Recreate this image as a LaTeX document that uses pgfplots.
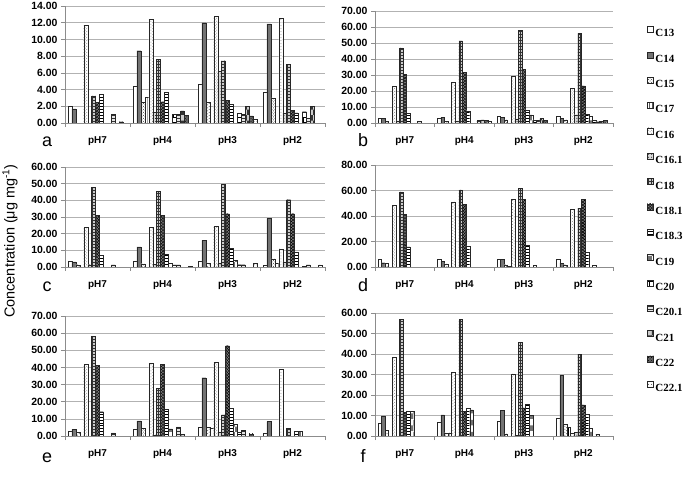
\documentclass[border=0pt]{standalone}
\usepackage{pgfplots}
\pgfplotsset{compat=1.18}
\usepackage{pgfplotstable}
\usetikzlibrary{patterns}
\usepackage{fontspec}
\setmainfont{Liberation Sans}
\newfontfamily\legfont{Liberation Serif}

% one table per panel: columns = fatty acids, rows = pH7, pH4, pH3, pH2
\pgfplotstableread{
g C13  C14   C15  C17  C16   C161 C18  C181 C183 C19 C20  C201 C21  C22  C221
0 2.05 1.70  0    0    11.65 0    3.25 2.50 3.45 0   0    1.00 0    0.15 0
1 4.40 8.65  2.50 3.05 12.40 1.30 7.60 2.55 3.75 0   1.00 1.00 1.45 0.95 0
2 4.70 12.00 2.50 0    12.75 6.20 7.45 2.70 2.20 0   1.20 1.00 2.00 0.85 0.45
3 3.75 11.85 3.00 0    12.50 1.20 7.00 1.50 1.20 0   1.35 0.60 2.00 0    0
}\tabA
\pgfplotstableread{
g C13 C14 C15 C17 C16  C161 C18  C181 C183 C19 C20 C201 C21 C22 C221
0 3.0 3.0 1.0 0   22.8 1.4  47.0 30.6 6.2  0   0   1.0  0   0   0
1 3.0 3.7 1.0 0   25.3 1.4  51.3 31.5 7.7  0   0   1.5  2.0 1.6 1.0
2 4.1 3.6 2.0 0   29.4 2.5  58.0 33.5 8.3  5.2 2.0 1.7  2.8 1.5 0
3 4.0 3.0 2.0 0   21.8 5.2  56.0 23.2 5.5  4.3 1.7 0.8  0.9 1.7 0
}\tabB
\pgfplotstableread{
g C13 C14  C15 C17 C16  C161 C18  C181 C183 C19 C20 C201 C21 C22 C221
0 3.4 3.0  1.4 0   23.8 1.4  47.8 31.0 7.0  0   0   1.3  0   0   0
1 3.4 12.0 2.0 0   23.8 1.5  45.5 31.0 7.5  2.2 1.3 1.3  0   0   0.4
2 3.8 16.0 2.4 0   24.4 2.4  49.6 32.0 11.2 4.0 1.4 1.4  0   0   2.4
3 1.2 29.2 4.8 2.2 11.0 3.0  40.4 32.0 9.0  0   0.4 1.3  0   0   1.3
}\tabC
\pgfplotstableread{
g C13 C14 C15 C17 C16  C161 C18  C181 C183 C19 C20 C201 C21 C22 C221
0 5.8 3.4 3.1 0   48.5 0    59.0 41.5 15.7 0   0   0    0   0   0
1 6.3 4.5 2.6 0   51.0 0    60.4 49.3 16.5 0   0   0    0   0   0
2 6.3 6.0 1.8 0.5 53.0 0    61.7 53.3 16.8 0   1.3 0    0   0   0
3 6.3 3.1 1.8 0   45.5 0    46.0 53.0 11.3 0   1.3 0    0   0   0
}\tabD
\pgfplotstableread{
g C13 C14  C15 C17 C16  C161 C18  C181 C183 C19 C20 C201 C21 C22 C221
0 3.1 3.9  2.3 0   42.0 0    58.3 41.4 14.2 0   0   1.9  0   0   0
1 3.9 8.8  4.5 0   42.4 0.6  28.0 41.8 15.6 4.1 0   5.4  1.0 0   0
2 5.4 34.0 4.9 4.5 43.0 2.3  12.3 52.7 16.0 7.0 2.0 3.5  0   1.2 0
3 1.5 8.4  0   0   39.2 0    4.5  0    3.0  2.7 0   0    0   0   0
}\tabE
\pgfplotstableread{
g C13 C14  C15 C17 C16  C161 C18  C181 C183 C19  C20 C201 C21 C22 C221
0 6.2 9.8  2.9 0   38.5 0    56.8 11.4 12.2 11.9 0   0    0   0   0
1 6.7 10.3 1.6 1.6 31.0 0    56.8 12.1 13.4 12.7 0   0    0   0   0
2 7.3 12.4 1.0 0   30.3 0.3  45.7 13.7 15.5 10.0 0   0    0   0   0
3 8.6 29.7 5.9 4.2 1.3  1.8  40.0 15.2 10.6 3.6  0   0.7  0   0   0
}\tabF

\pgfplotsset{
  bar/.style={draw=black!85, line width=0.3bp,
    legend image code/.code={\draw[##1, line width=0.3bp] (0bp,0.6bp) rectangle (6bp,6.6bp);}},
  % each series keeps its own slot inside a group (15 slots of 1/16.5)
  sC13/.style={bar shift=-0.42424, fill=white},
  sC14/.style={bar shift=-0.36364, fill=black!55},
  sC15/.style={bar shift=-0.30303, fill=white, postaction={pattern=crosshatch dots, pattern color=black!75}},
  sC17/.style={bar shift=-0.24242, fill=white, postaction={pattern=vertical lines, pattern color=black}},
  sC16/.style={bar shift=-0.18182, fill=white, postaction={pattern=crosshatch dots, pattern color=black!45}},
  sC161/.style={bar shift=-0.12121, fill=black!15, postaction={pattern=dots, pattern color=black}},
  sC18/.style={bar shift=-0.06061, fill=black!20, postaction={pattern=grid, pattern color=black!80}},
  sC181/.style={bar shift=0, fill=black!50, postaction={pattern=crosshatch, pattern color=black}},
  sC183/.style={bar shift=0.06061, fill=white, postaction={pattern=horizontal lines, pattern color=black}},
  sC19/.style={bar shift=0.12121, fill=white, postaction={pattern=checkerboard, pattern color=black!55}},
  sC20/.style={bar shift=0.18182, fill=white, postaction={pattern=bricks, pattern color=black}},
  sC201/.style={bar shift=0.24242, fill=black!10, postaction={pattern=horizontal lines, pattern color=black!80}},
  sC21/.style={bar shift=0.30303, fill=black!20, postaction={pattern=checkerboard, pattern color=black!80}},
  sC22/.style={bar shift=0.36364, fill=black!60, postaction={pattern=crosshatch dots, pattern color=black}},
  sC221/.style={bar shift=0.42424, fill=white, postaction={pattern=dots, pattern color=black!70}},
  panel/.style={
    scale only axis, anchor=south west,
    ybar=0pt, bar width=0.0606,
    xmin=-0.5, xmax=3.5, ymin=0,
    axis x line*=bottom, axis y line*=left,
    axis line style={draw=black!45, line width=0.6bp},
    xtick={0,1,2,3}, xticklabels={pH7,pH4,pH3,pH2},
    minor xtick={-0.5,0.5,1.5,2.5,3.5},
    tick align=outside,
    major x tick style={draw=none},
    minor x tick style={draw=black!45, line width=0.6bp},
    ytick style={draw=black!45, line width=0.6bp},
    major tick length=4bp, minor tick length=4bp,
    ymajorgrids, grid style={draw=black!30, line width=0.5bp},
    xticklabel style={font=\bfseries\fontsize{10}{10}\selectfont, yshift=-6bp},
    yticklabel style={font=\bfseries\fontsize{10.5}{10.5}\selectfont,
      /pgf/number format/.cd, fixed, fixed zerofill, precision=2, assume math mode=true},
    scaled y ticks=false,
    y filter/.expression={y==0 ? nan : y},
    unbounded coords=discard,
  },
}

\newcommand\bars[1]{%
  \pgfplotsinvokeforeach{C13,C14,C15,C17,C16,C161,C18,C181,C183,C19,C20,C201,C21,C22,C221}{%
    \addplot[bar, s##1] table[x=g, y=##1] {#1};}%
}

\begin{document}
\begin{tikzpicture}
\useasboundingbox (0,0) rectangle (685bp,477bp);

\begin{axis}[panel, at={(65bp,354bp)}, width=260bp, height=117bp, ymax=14, ytick distance=2]
\bars{\tabA}
\end{axis}

\begin{axis}[panel, at={(375bp,354bp)}, width=238bp, height=112bp, ymax=70, ytick distance=10]
\bars{\tabB}
\end{axis}

\begin{axis}[panel, at={(65bp,210bp)}, width=260bp, height=100bp, ymax=60, ytick distance=10]
\bars{\tabC}
\end{axis}

\begin{axis}[panel, at={(375bp,210bp)}, width=238bp, height=102bp, ymax=80, ytick distance=20]
\bars{\tabD}
\end{axis}

\begin{axis}[panel, at={(65bp,41bp)}, width=260bp, height=120bp, ymax=70, ytick distance=10]
\bars{\tabE}
\end{axis}

\begin{axis}[panel, at={(375bp,41bp)}, width=238bp, height=123bp, ymax=60, ytick distance=10]
\bars{\tabF}
\end{axis}

% legend column on the right
\begin{axis}[hide axis, scale only axis, anchor=south west, at={(640bp,20bp)},
  width=40bp, height=433bp, xmin=0, xmax=1, ymin=0, ymax=1,
  legend style={at={(0.1,1)}, anchor=north west, draw=none, fill=none,
    font=\legfont\bfseries\fontsize{11}{11}\selectfont, row sep=14.6bp, column sep=2bp,
    nodes={inner sep=0pt, text height=8bp, text depth=0bp}},
  legend cell align=left]
\pgfplotsinvokeforeach{C13,C14,C15,C17,C16,C161,C18,C181,C183,C19,C20,C201,C21,C22,C221}{%
  \addlegendimage{bar, s#1}}
\legend{C13,C14,C15,C17,C16,C16.1,C18,C18.1,C18.3,C19,C20,C20.1,C21,C22,C22.1}
\end{axis}

\node[rotate=90, font=\fontsize{14.5}{14.5}\selectfont] at (10bp,236bp) {Concentration (μg mg\textsuperscript{-1})};
\foreach \l/\x/\y in {a/47/330, b/363/330, c/47/185, d/363/185, e/47/15, f/363/15}
  \node[anchor=base, font=\fontsize{18}{18}\selectfont] at (\x bp,\y bp) {\l};
\end{tikzpicture}
\end{document}
